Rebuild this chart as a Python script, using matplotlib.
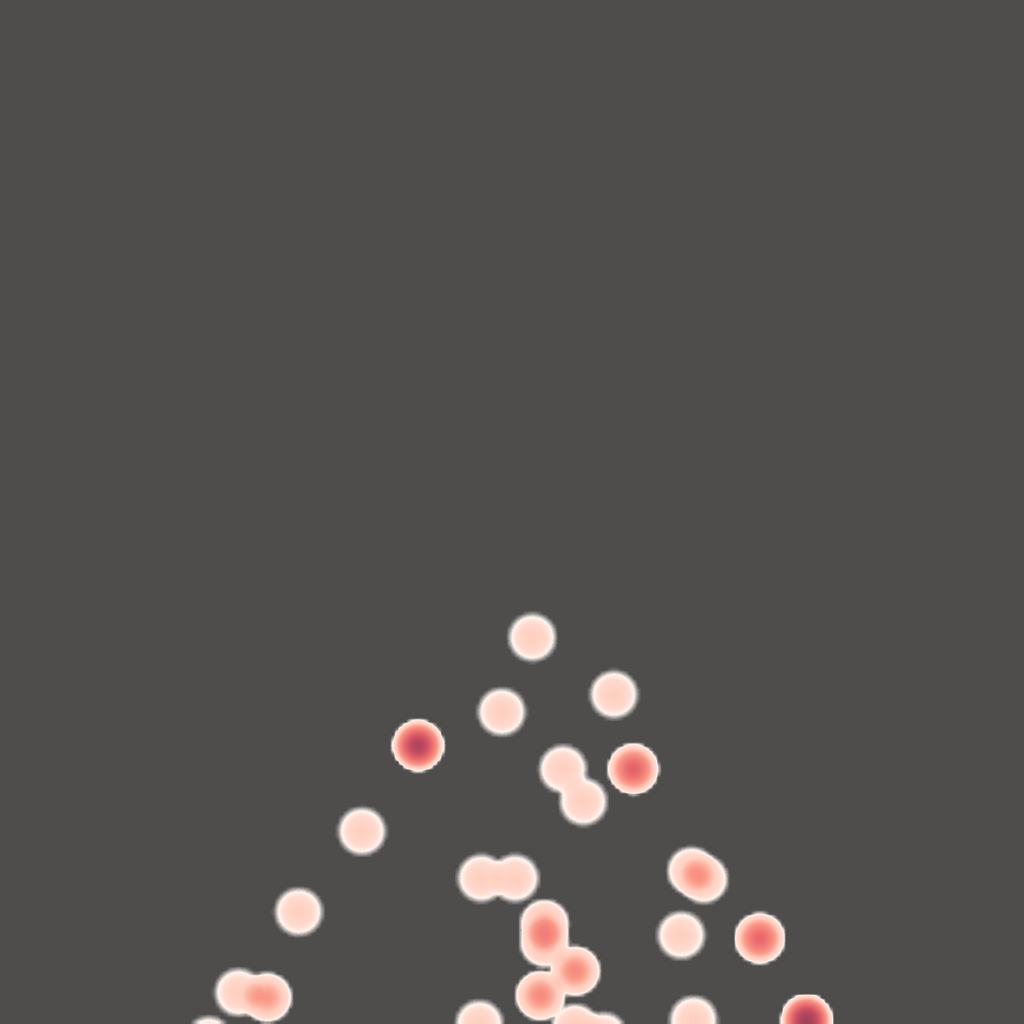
import numpy as np
import matplotlib
matplotlib.use('Agg')
from matplotlib import pyplot as plt
from matplotlib.colors import LinearSegmentedColormap

# point positions (data units, 0-100 both axes) and weights
xs = [52.0, 60.0, 49.0, 40.8, 55.0, 61.9, 57.0, 35.3, 47.0, 50.3,
      67.6, 68.8, 29.1, 53.2, 53.2, 66.6, 74.3, 56.2, 52.8, 23.2,
      26.0, 20.3, 46.8, 56.2, 59.0, 67.8, 78.9]
ys = [37.7, 32.1, 30.4, 27.1, 24.8, 24.8, 21.6, 18.7, 14.1, 14.1,
      14.8, 14.0, 10.8, 9.6, 7.8, 8.5, 8.2, 5.0, 2.6, 2.9,
      2.4, -1.8, -0.2, -0.6, -1.4, 0.2, 0.2]
ws = [1, 1, 1, 5, 1, 3.4, 1, 1, 1, 1,
      1.2, 1.2, 1, 1.6, 1.6, 1, 3.2, 2.2, 2.2, 1,
      1.9, 1, 1, 1.2, 1, 1, 5.5]

BG = '#4f4d4c'
R = 2.55
VMAX = 6.0
N = 256

cmap = LinearSegmentedColormap.from_list('heat', [
    (0.0, (1, 1, 1, 0)),
    (0.05, (1, 0.96, 0.93, 1)),
    (0.09, (1, 0.86, 0.81, 1)),
    (0.17, (1, 0.81, 0.75, 1)),
    (0.3, (0.98, 0.60, 0.53, 1)),
    (0.5, (0.92, 0.42, 0.43, 1)),
    (0.7, (0.77, 0.30, 0.38, 1)),
    (1.0, (0.55, 0.24, 0.33, 1)),
])

gx, gy = np.meshgrid(np.linspace(0, 100, N), np.linspace(0, 100, N))
dens = np.zeros_like(gx)
for x, y, w in zip(xs, ys, ws):
    d = np.hypot(gx - x, gy - y)
    dens += w * np.clip(1 - (d / R) ** 1.5, 0, None)

fig = plt.figure(figsize=(10.24, 10.24), dpi=100, facecolor=BG)
ax = fig.add_axes([0, 0, 1, 1])
ax.set_facecolor(BG)
ax.imshow(dens, cmap=cmap, vmin=0, vmax=VMAX, origin='lower',
          extent=(0, 100, 0, 100), interpolation='bilinear')
ax.set_xlim(0, 100)
ax.set_ylim(0, 100)
ax.axis('off')

fig.savefig('out.png', dpi=100, facecolor=BG)
